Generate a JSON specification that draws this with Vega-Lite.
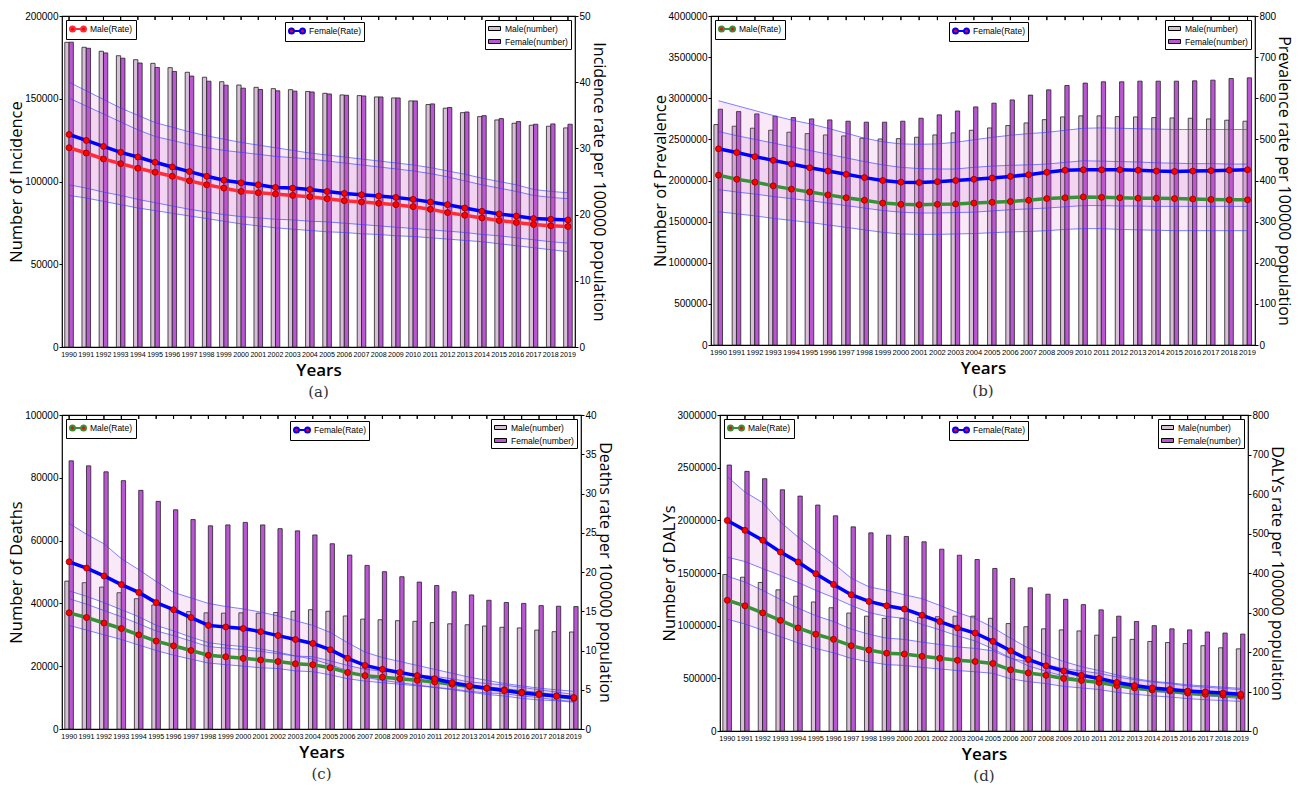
{
"$schema": "https://vega.github.io/schema/vega-lite/v6.json",
"padding": {"left": 8, "top": 10, "right": 8, "bottom": 2},
"background": "white",
"config": {
  "view": {"stroke": "#000", "strokeWidth": 1.2},
  "axis": {"grid": false, "domain": false, "labelFont": "Liberation Sans, sans-serif", "labelFontSize": 10, "labelColor": "#000", "tickColor": "#000", "tickSize": 3, "titleFont": "Open Sans", "titleFontSize": 16.5, "titleFontWeight": "normal", "titleColor": "#000", "labelPadding": 1, "titlePadding": 0},
  "axisRight": {"titleFontSize": 16},
  "axisX": {"labelFontSize": 7.2, "labelAngle": 0, "labelOverlap": false, "ticks": false, "titleFontSize": 17, "titleFontWeight": 600, "labelPadding": 3, "titlePadding": 5},
  "legend": {"labelFont": "Liberation Sans, sans-serif", "labelFontSize": 8.5, "labelColor": "#000", "padding": 3, "strokeColor": "#000", "fillColor": "#fff", "cornerRadius": 0, "labelLimit": 200, "title": null},
  "title": {"font": "DejaVu Serif", "fontSize": 15, "fontWeight": "normal", "color": "#333", "orient": "bottom", "offset": 7}
},
"datasets": {
"a": [
{"year":1990,"sex":"Male","n":184100,"r":30.1,"lo":22.9,"hi":37.6},{"year":1990,"sex":"Female","n":184200,"r":32.1,"lo":24.5,"hi":40.0},
{"year":1991,"sex":"Male","n":181100,"r":29.3,"lo":22.5,"hi":36.4},{"year":1991,"sex":"Female","n":180500,"r":31.2,"lo":24.0,"hi":38.7},
{"year":1992,"sex":"Male","n":178700,"r":28.4,"lo":22.0,"hi":35.2},{"year":1992,"sex":"Female","n":177700,"r":30.3,"lo":23.4,"hi":37.4},
{"year":1993,"sex":"Male","n":176000,"r":27.7,"lo":21.5,"hi":34.0},{"year":1993,"sex":"Female","n":174500,"r":29.4,"lo":22.9,"hi":36.1},
{"year":1994,"sex":"Male","n":173600,"r":27.0,"lo":21.0,"hi":32.8},{"year":1994,"sex":"Female","n":171600,"r":28.7,"lo":22.3,"hi":35.0},
{"year":1995,"sex":"Male","n":171400,"r":26.4,"lo":20.6,"hi":31.8},{"year":1995,"sex":"Female","n":168900,"r":27.9,"lo":21.8,"hi":33.9},
{"year":1996,"sex":"Male","n":168800,"r":25.8,"lo":20.2,"hi":31.2},{"year":1996,"sex":"Female","n":166500,"r":27.2,"lo":21.3,"hi":33.2},
{"year":1997,"sex":"Male","n":166000,"r":25.1,"lo":19.8,"hi":30.6},{"year":1997,"sex":"Female","n":163700,"r":26.5,"lo":20.8,"hi":32.5},
{"year":1998,"sex":"Male","n":163000,"r":24.5,"lo":19.4,"hi":30.1},{"year":1998,"sex":"Female","n":160600,"r":25.8,"lo":20.4,"hi":31.9},
{"year":1999,"sex":"Male","n":160300,"r":24.0,"lo":19.0,"hi":29.7},{"year":1999,"sex":"Female","n":158200,"r":25.2,"lo":20.0,"hi":31.4},
{"year":2000,"sex":"Male","n":158300,"r":23.5,"lo":18.6,"hi":29.4},{"year":2000,"sex":"Female","n":156400,"r":24.8,"lo":19.7,"hi":30.9},
{"year":2001,"sex":"Male","n":156900,"r":23.3,"lo":18.3,"hi":29.1},{"year":2001,"sex":"Female","n":155600,"r":24.5,"lo":19.5,"hi":30.5},
{"year":2002,"sex":"Male","n":156100,"r":23.1,"lo":18.0,"hi":28.8},{"year":2002,"sex":"Female","n":154800,"r":24.1,"lo":19.3,"hi":30.1},
{"year":2003,"sex":"Male","n":155500,"r":22.9,"lo":17.8,"hi":28.6},{"year":2003,"sex":"Female","n":154600,"r":24.0,"lo":19.2,"hi":29.7},
{"year":2004,"sex":"Male","n":154400,"r":22.7,"lo":17.6,"hi":28.4},{"year":2004,"sex":"Female","n":154100,"r":23.8,"lo":19.0,"hi":29.3},
{"year":2005,"sex":"Male","n":153300,"r":22.4,"lo":17.4,"hi":28.1},{"year":2005,"sex":"Female","n":152900,"r":23.5,"lo":18.9,"hi":29.0},
{"year":2006,"sex":"Male","n":152300,"r":22.1,"lo":17.3,"hi":27.8},{"year":2006,"sex":"Female","n":152100,"r":23.2,"lo":18.7,"hi":28.7},
{"year":2007,"sex":"Male","n":151900,"r":21.9,"lo":17.1,"hi":27.5},{"year":2007,"sex":"Female","n":151700,"r":23.0,"lo":18.5,"hi":28.4},
{"year":2008,"sex":"Male","n":151100,"r":21.7,"lo":17.0,"hi":27.2},{"year":2008,"sex":"Female","n":151100,"r":22.8,"lo":18.3,"hi":28.1},
{"year":2009,"sex":"Male","n":150500,"r":21.5,"lo":16.8,"hi":26.9},{"year":2009,"sex":"Female","n":150500,"r":22.6,"lo":18.1,"hi":27.8},
{"year":2010,"sex":"Male","n":148700,"r":21.2,"lo":16.7,"hi":26.6},{"year":2010,"sex":"Female","n":148700,"r":22.3,"lo":17.9,"hi":27.5},
{"year":2011,"sex":"Male","n":146500,"r":20.8,"lo":16.5,"hi":26.2},{"year":2011,"sex":"Female","n":146900,"r":21.9,"lo":17.7,"hi":27.1},
{"year":2012,"sex":"Male","n":144300,"r":20.3,"lo":16.3,"hi":25.7},{"year":2012,"sex":"Female","n":144700,"r":21.5,"lo":17.5,"hi":26.6},
{"year":2013,"sex":"Male","n":141600,"r":19.9,"lo":16.1,"hi":25.1},{"year":2013,"sex":"Female","n":142000,"r":21.0,"lo":17.3,"hi":26.1},
{"year":2014,"sex":"Male","n":139200,"r":19.5,"lo":15.9,"hi":24.5},{"year":2014,"sex":"Female","n":139800,"r":20.5,"lo":17.0,"hi":25.5},
{"year":2015,"sex":"Male","n":137200,"r":19.1,"lo":15.6,"hi":24.0},{"year":2015,"sex":"Female","n":138000,"r":20.1,"lo":16.8,"hi":25.0},
{"year":2016,"sex":"Male","n":135200,"r":18.8,"lo":15.3,"hi":23.5},{"year":2016,"sex":"Female","n":136200,"r":19.8,"lo":16.5,"hi":24.5},
{"year":2017,"sex":"Male","n":134000,"r":18.5,"lo":15.0,"hi":22.9},{"year":2017,"sex":"Female","n":134600,"r":19.4,"lo":16.2,"hi":23.8},
{"year":2018,"sex":"Male","n":133400,"r":18.3,"lo":14.7,"hi":22.6},{"year":2018,"sex":"Female","n":134800,"r":19.3,"lo":15.9,"hi":23.5},
{"year":2019,"sex":"Male","n":132400,"r":18.2,"lo":14.4,"hi":22.4},{"year":2019,"sex":"Female","n":134600,"r":19.2,"lo":15.7,"hi":23.3}
],
"b": [
{"year":1990,"sex":"Male","n":2680000,"r":413,"lo":324,"hi":519},{"year":1990,"sex":"Female","n":2867000,"r":477,"lo":378,"hi":594},
{"year":1991,"sex":"Male","n":2660000,"r":403,"lo":319,"hi":509},{"year":1991,"sex":"Female","n":2838000,"r":468,"lo":372,"hi":582},
{"year":1992,"sex":"Male","n":2636000,"r":396,"lo":314,"hi":500},{"year":1992,"sex":"Female","n":2810000,"r":458,"lo":367,"hi":570},
{"year":1993,"sex":"Male","n":2611000,"r":387,"lo":308,"hi":491},{"year":1993,"sex":"Female","n":2782000,"r":449,"lo":361,"hi":558},
{"year":1994,"sex":"Male","n":2587000,"r":379,"lo":303,"hi":482},{"year":1994,"sex":"Female","n":2765000,"r":440,"lo":356,"hi":547},
{"year":1995,"sex":"Male","n":2570000,"r":372,"lo":298,"hi":473},{"year":1995,"sex":"Female","n":2749000,"r":431,"lo":351,"hi":538},
{"year":1996,"sex":"Male","n":2554000,"r":365,"lo":292,"hi":464},{"year":1996,"sex":"Female","n":2737000,"r":423,"lo":345,"hi":527},
{"year":1997,"sex":"Male","n":2542000,"r":358,"lo":286,"hi":455},{"year":1997,"sex":"Female","n":2721000,"r":415,"lo":339,"hi":515},
{"year":1998,"sex":"Male","n":2514000,"r":352,"lo":280,"hi":446},{"year":1998,"sex":"Female","n":2709000,"r":407,"lo":333,"hi":503},
{"year":1999,"sex":"Male","n":2505000,"r":345,"lo":274,"hi":438},{"year":1999,"sex":"Female","n":2709000,"r":400,"lo":327,"hi":494},
{"year":2000,"sex":"Male","n":2509000,"r":342,"lo":270,"hi":432},{"year":2000,"sex":"Female","n":2721000,"r":396,"lo":323,"hi":489},
{"year":2001,"sex":"Male","n":2526000,"r":341,"lo":269,"hi":429},{"year":2001,"sex":"Female","n":2757000,"r":395,"lo":321,"hi":488},
{"year":2002,"sex":"Male","n":2554000,"r":342,"lo":269,"hi":428},{"year":2002,"sex":"Female","n":2798000,"r":397,"lo":321,"hi":489},
{"year":2003,"sex":"Male","n":2579000,"r":343,"lo":270,"hi":428},{"year":2003,"sex":"Female","n":2845000,"r":400,"lo":322,"hi":493},
{"year":2004,"sex":"Male","n":2611000,"r":345,"lo":271,"hi":432},{"year":2004,"sex":"Female","n":2895000,"r":403,"lo":323,"hi":499},
{"year":2005,"sex":"Male","n":2639000,"r":347,"lo":273,"hi":435},{"year":2005,"sex":"Female","n":2940000,"r":406,"lo":326,"hi":505},
{"year":2006,"sex":"Male","n":2668000,"r":349,"lo":275,"hi":437},{"year":2006,"sex":"Female","n":2980000,"r":410,"lo":329,"hi":510},
{"year":2007,"sex":"Male","n":2700000,"r":352,"lo":276,"hi":438},{"year":2007,"sex":"Female","n":3038000,"r":414,"lo":331,"hi":514},
{"year":2008,"sex":"Male","n":2740000,"r":356,"lo":278,"hi":440},{"year":2008,"sex":"Female","n":3102000,"r":420,"lo":333,"hi":517},
{"year":2009,"sex":"Male","n":2773000,"r":358,"lo":281,"hi":444},{"year":2009,"sex":"Female","n":3155000,"r":425,"lo":336,"hi":522},
{"year":2010,"sex":"Male","n":2786000,"r":360,"lo":283,"hi":448},{"year":2010,"sex":"Female","n":3184000,"r":426,"lo":339,"hi":527},
{"year":2011,"sex":"Male","n":2786000,"r":359,"lo":283,"hi":447},{"year":2011,"sex":"Female","n":3200000,"r":426,"lo":339,"hi":528},
{"year":2012,"sex":"Male","n":2777000,"r":358,"lo":281,"hi":446},{"year":2012,"sex":"Female","n":3200000,"r":426,"lo":338,"hi":527},
{"year":2013,"sex":"Male","n":2773000,"r":357,"lo":280,"hi":445},{"year":2013,"sex":"Female","n":3208000,"r":425,"lo":338,"hi":526},
{"year":2014,"sex":"Male","n":2765000,"r":357,"lo":279,"hi":443},{"year":2014,"sex":"Female","n":3208000,"r":423,"lo":337,"hi":525},
{"year":2015,"sex":"Male","n":2761000,"r":356,"lo":278,"hi":442},{"year":2015,"sex":"Female","n":3208000,"r":422,"lo":337,"hi":524},
{"year":2016,"sex":"Male","n":2757000,"r":355,"lo":278,"hi":441},{"year":2016,"sex":"Female","n":3212000,"r":423,"lo":337,"hi":524},
{"year":2017,"sex":"Male","n":2749000,"r":354,"lo":278,"hi":441},{"year":2017,"sex":"Female","n":3220000,"r":424,"lo":337,"hi":524},
{"year":2018,"sex":"Male","n":2733000,"r":353,"lo":278,"hi":440},{"year":2018,"sex":"Female","n":3240000,"r":425,"lo":337,"hi":524},
{"year":2019,"sex":"Male","n":2721000,"r":353,"lo":278,"hi":440},{"year":2019,"sex":"Female","n":3248000,"r":426,"lo":337,"hi":524}
],
"c": [
{"year":1990,"sex":"Male","n":47100,"r":14.8,"lo":13.2,"hi":16.6},{"year":1990,"sex":"Female","n":85400,"r":21.3,"lo":17.6,"hi":26.2},
{"year":1991,"sex":"Male","n":46600,"r":14.2,"lo":12.6,"hi":15.9},{"year":1991,"sex":"Female","n":83800,"r":20.5,"lo":16.9,"hi":24.8},
{"year":1992,"sex":"Male","n":45200,"r":13.5,"lo":12.0,"hi":15.1},{"year":1992,"sex":"Female","n":81900,"r":19.5,"lo":16.1,"hi":23.6},
{"year":1993,"sex":"Male","n":43400,"r":12.8,"lo":11.4,"hi":14.3},{"year":1993,"sex":"Female","n":79100,"r":18.4,"lo":15.2,"hi":21.7},
{"year":1994,"sex":"Male","n":41500,"r":12.0,"lo":10.7,"hi":13.4},{"year":1994,"sex":"Female","n":76000,"r":17.4,"lo":14.3,"hi":20.3},
{"year":1995,"sex":"Male","n":39500,"r":11.2,"lo":10.0,"hi":12.5},{"year":1995,"sex":"Female","n":72500,"r":16.1,"lo":13.2,"hi":18.8},
{"year":1996,"sex":"Male","n":38300,"r":10.6,"lo":9.4,"hi":11.9},{"year":1996,"sex":"Female","n":69800,"r":15.2,"lo":12.5,"hi":17.4},
{"year":1997,"sex":"Male","n":37400,"r":10.0,"lo":8.9,"hi":11.2},{"year":1997,"sex":"Female","n":66700,"r":14.2,"lo":11.7,"hi":16.7},
{"year":1998,"sex":"Male","n":37000,"r":9.4,"lo":8.4,"hi":10.5},{"year":1998,"sex":"Female","n":64700,"r":13.2,"lo":11.0,"hi":16.0},
{"year":1999,"sex":"Male","n":36900,"r":9.2,"lo":8.2,"hi":10.3},{"year":1999,"sex":"Female","n":65000,"r":13.0,"lo":10.7,"hi":15.6},
{"year":2000,"sex":"Male","n":37000,"r":9.0,"lo":8.0,"hi":10.1},{"year":2000,"sex":"Female","n":65800,"r":12.8,"lo":10.5,"hi":15.3},
{"year":2001,"sex":"Male","n":36900,"r":8.8,"lo":7.8,"hi":9.9},{"year":2001,"sex":"Female","n":65000,"r":12.4,"lo":10.2,"hi":14.9},
{"year":2002,"sex":"Male","n":37100,"r":8.6,"lo":7.7,"hi":9.6},{"year":2002,"sex":"Female","n":63800,"r":11.9,"lo":9.8,"hi":14.4},
{"year":2003,"sex":"Male","n":37500,"r":8.3,"lo":7.4,"hi":9.3},{"year":2003,"sex":"Female","n":63100,"r":11.4,"lo":9.3,"hi":13.8},
{"year":2004,"sex":"Male","n":38000,"r":8.2,"lo":7.3,"hi":9.2},{"year":2004,"sex":"Female","n":61800,"r":10.9,"lo":8.9,"hi":13.2},
{"year":2005,"sex":"Male","n":37500,"r":7.8,"lo":6.9,"hi":8.7},{"year":2005,"sex":"Female","n":59000,"r":10.1,"lo":8.2,"hi":12.3},
{"year":2006,"sex":"Male","n":36000,"r":7.2,"lo":6.4,"hi":8.1},{"year":2006,"sex":"Female","n":55400,"r":9.0,"lo":7.4,"hi":11.0},
{"year":2007,"sex":"Male","n":35000,"r":6.8,"lo":6.1,"hi":7.6},{"year":2007,"sex":"Female","n":52100,"r":8.1,"lo":6.6,"hi":9.8},
{"year":2008,"sex":"Male","n":34800,"r":6.6,"lo":5.9,"hi":7.4},{"year":2008,"sex":"Female","n":50100,"r":7.6,"lo":6.2,"hi":9.1},
{"year":2009,"sex":"Male","n":34500,"r":6.4,"lo":5.7,"hi":7.2},{"year":2009,"sex":"Female","n":48500,"r":7.2,"lo":5.9,"hi":8.6},
{"year":2010,"sex":"Male","n":34300,"r":6.2,"lo":5.5,"hi":6.9},{"year":2010,"sex":"Female","n":46800,"r":6.8,"lo":5.6,"hi":8.1},
{"year":2011,"sex":"Male","n":33900,"r":6.0,"lo":5.3,"hi":6.7},{"year":2011,"sex":"Female","n":45700,"r":6.4,"lo":5.3,"hi":7.6},
{"year":2012,"sex":"Male","n":33500,"r":5.7,"lo":5.1,"hi":6.4},{"year":2012,"sex":"Female","n":43700,"r":5.9,"lo":5.0,"hi":7.1},
{"year":2013,"sex":"Male","n":33200,"r":5.4,"lo":4.8,"hi":6.0},{"year":2013,"sex":"Female","n":42700,"r":5.5,"lo":4.7,"hi":6.6},
{"year":2014,"sex":"Male","n":32800,"r":5.2,"lo":4.6,"hi":5.8},{"year":2014,"sex":"Female","n":41000,"r":5.2,"lo":4.4,"hi":6.2},
{"year":2015,"sex":"Male","n":32400,"r":5.0,"lo":4.5,"hi":5.6},{"year":2015,"sex":"Female","n":40300,"r":4.9,"lo":4.2,"hi":5.8},
{"year":2016,"sex":"Male","n":32200,"r":4.7,"lo":4.2,"hi":5.3},{"year":2016,"sex":"Female","n":40000,"r":4.6,"lo":3.9,"hi":5.5},
{"year":2017,"sex":"Male","n":31500,"r":4.5,"lo":4.0,"hi":5.0},{"year":2017,"sex":"Female","n":39300,"r":4.4,"lo":3.7,"hi":5.2},
{"year":2018,"sex":"Male","n":31000,"r":4.2,"lo":3.7,"hi":4.7},{"year":2018,"sex":"Female","n":39100,"r":4.2,"lo":3.6,"hi":5.0},
{"year":2019,"sex":"Male","n":30900,"r":3.9,"lo":3.5,"hi":4.4},{"year":2019,"sex":"Female","n":39000,"r":4.0,"lo":3.4,"hi":4.8}
],
"d": [
{"year":1990,"sex":"Male","n":1486000,"r":331,"lo":283,"hi":392},{"year":1990,"sex":"Female","n":2525000,"r":533,"lo":440,"hi":644},
{"year":1991,"sex":"Male","n":1460000,"r":317,"lo":271,"hi":377},{"year":1991,"sex":"Female","n":2465000,"r":508,"lo":429,"hi":605},
{"year":1992,"sex":"Male","n":1410000,"r":299,"lo":255,"hi":356},{"year":1992,"sex":"Female","n":2395000,"r":483,"lo":411,"hi":578},
{"year":1993,"sex":"Male","n":1340000,"r":280,"lo":239,"hi":333},{"year":1993,"sex":"Female","n":2290000,"r":453,"lo":394,"hi":529},
{"year":1994,"sex":"Male","n":1280000,"r":261,"lo":223,"hi":311},{"year":1994,"sex":"Female","n":2230000,"r":428,"lo":376,"hi":491},
{"year":1995,"sex":"Male","n":1225000,"r":245,"lo":209,"hi":292},{"year":1995,"sex":"Female","n":2145000,"r":398,"lo":356,"hi":457},
{"year":1996,"sex":"Male","n":1170000,"r":232,"lo":198,"hi":277},{"year":1996,"sex":"Female","n":2043000,"r":371,"lo":338,"hi":424},
{"year":1997,"sex":"Male","n":1120000,"r":216,"lo":184,"hi":258},{"year":1997,"sex":"Female","n":1938000,"r":345,"lo":318,"hi":387},
{"year":1998,"sex":"Male","n":1090000,"r":205,"lo":175,"hi":245},{"year":1998,"sex":"Female","n":1881000,"r":328,"lo":300,"hi":365},
{"year":1999,"sex":"Male","n":1070000,"r":197,"lo":168,"hi":235},{"year":1999,"sex":"Female","n":1859000,"r":317,"lo":290,"hi":356},
{"year":2000,"sex":"Male","n":1070000,"r":195,"lo":166,"hi":232},{"year":2000,"sex":"Female","n":1847000,"r":309,"lo":285,"hi":345},
{"year":2001,"sex":"Male","n":1080000,"r":189,"lo":161,"hi":225},{"year":2001,"sex":"Female","n":1796000,"r":293,"lo":270,"hi":335},
{"year":2002,"sex":"Male","n":1085000,"r":184,"lo":157,"hi":219},{"year":2002,"sex":"Female","n":1726000,"r":277,"lo":256,"hi":318},
{"year":2003,"sex":"Male","n":1090000,"r":179,"lo":153,"hi":213},{"year":2003,"sex":"Female","n":1669000,"r":261,"lo":241,"hi":300},
{"year":2004,"sex":"Male","n":1090000,"r":176,"lo":150,"hi":209},{"year":2004,"sex":"Female","n":1628000,"r":248,"lo":228,"hi":285},
{"year":2005,"sex":"Male","n":1070000,"r":171,"lo":146,"hi":203},{"year":2005,"sex":"Female","n":1543000,"r":227,"lo":208,"hi":262},
{"year":2006,"sex":"Male","n":1020000,"r":155,"lo":132,"hi":184},{"year":2006,"sex":"Female","n":1448000,"r":203,"lo":185,"hi":235},
{"year":2007,"sex":"Male","n":990000,"r":147,"lo":125,"hi":175},{"year":2007,"sex":"Female","n":1359000,"r":181,"lo":165,"hi":210},
{"year":2008,"sex":"Male","n":970000,"r":141,"lo":120,"hi":168},{"year":2008,"sex":"Female","n":1299000,"r":165,"lo":151,"hi":192},
{"year":2009,"sex":"Male","n":960000,"r":133,"lo":113,"hi":158},{"year":2009,"sex":"Female","n":1250000,"r":152,"lo":139,"hi":176},
{"year":2010,"sex":"Male","n":950000,"r":128,"lo":109,"hi":152},{"year":2010,"sex":"Female","n":1200000,"r":141,"lo":130,"hi":163},
{"year":2011,"sex":"Male","n":910000,"r":123,"lo":105,"hi":146},{"year":2011,"sex":"Female","n":1150000,"r":133,"lo":122,"hi":153},
{"year":2012,"sex":"Male","n":890000,"r":115,"lo":98,"hi":137},{"year":2012,"sex":"Female","n":1090000,"r":123,"lo":113,"hi":142},
{"year":2013,"sex":"Male","n":870000,"r":109,"lo":93,"hi":130},{"year":2013,"sex":"Female","n":1040000,"r":115,"lo":106,"hi":133},
{"year":2014,"sex":"Male","n":850000,"r":104,"lo":89,"hi":124},{"year":2014,"sex":"Female","n":1000000,"r":109,"lo":100,"hi":126},
{"year":2015,"sex":"Male","n":840000,"r":101,"lo":86,"hi":120},{"year":2015,"sex":"Female","n":970000,"r":105,"lo":97,"hi":122},
{"year":2016,"sex":"Male","n":830000,"r":96,"lo":82,"hi":114},{"year":2016,"sex":"Female","n":960000,"r":101,"lo":92,"hi":117},
{"year":2017,"sex":"Male","n":810000,"r":93,"lo":79,"hi":111},{"year":2017,"sex":"Female","n":940000,"r":99,"lo":89,"hi":114},
{"year":2018,"sex":"Male","n":790000,"r":91,"lo":77,"hi":108},{"year":2018,"sex":"Female","n":930000,"r":96,"lo":86,"hi":111},
{"year":2019,"sex":"Male","n":780000,"r":88,"lo":75,"hi":105},{"year":2019,"sex":"Female","n":920000,"r":93,"lo":82,"hi":108}
]
},
"resolve": {"scale": {"fill": "independent", "stroke": "independent", "color": "independent"}, "legend": {"fill": "independent", "stroke": "independent", "color": "independent"}},
"spacing": 8,
"vconcat": [
{"hconcat": [
{
 "width": 513, "height": 331,
 "data": {"name": "a"},
 "title": {"text": "(a)"},
 "encoding": {"x": {"field": "year", "type": "ordinal", "scale": {"type": "band", "paddingInner": 0.5, "paddingOuter": 0.16}, "axis": {"title": "Years", "labelFontSize": 7.1}}},
 "layer": [
  {"mark": {"type": "bar", "stroke": "#222", "strokeWidth": 0.8},
   "encoding": {
    "xOffset": {"field": "sex", "type": "nominal", "sort": ["Male", "Female"]},
    "y": {"field": "n", "type": "quantitative", "scale": {"domain": [0, 200000], "nice": false}, "axis": {"orient": "left", "title": "Number of Incidence", "values": [0, 50000, 100000, 150000, 200000], "format": "d"}},
    "fill": {"field": "sex", "type": "nominal", "sort": ["Male", "Female"], "scale": {"domain": ["Male", "Female"], "range": ["#d8bfd8", "#ba55d3"]},
      "legend": {"orient": "top-right", "offset": 4, "symbolType": "M-1,-0.4H1.4V0.4H-1Z", "symbolSize": 100, "symbolStrokeColor": "#000", "symbolStrokeWidth": 1, "labelOffset": 6, "rowPadding": 3, "labelExpr": "datum.label + '(number)'"}}
   }},
  {"mark": {"type": "area", "color": "#cc5ccc", "fillOpacity": 0.14},
   "encoding": {"y": {"field": "lo", "type": "quantitative", "scale": {"domain": [0, 50], "nice": false}, "axis": null}, "y2": {"field": "hi"}, "detail": {"field": "sex"}}},
  {"mark": {"type": "line", "color": "#3c3cff", "strokeWidth": 0.8, "opacity": 0.8},
   "encoding": {"y": {"field": "lo", "type": "quantitative", "scale": {"domain": [0, 50], "nice": false}, "axis": null}, "detail": {"field": "sex"}}},
  {"mark": {"type": "line", "color": "#3c3cff", "strokeWidth": 0.8, "opacity": 0.8},
   "encoding": {"y": {"field": "hi", "type": "quantitative", "scale": {"domain": [0, 50], "nice": false}, "axis": null}, "detail": {"field": "sex"}}},
  {"transform": [{"filter": "datum.sex === 'Male'"}],
   "mark": {"type": "line", "strokeWidth": 3.5},
   "encoding": {"y": {"field": "r", "type": "quantitative", "scale": {"domain": [0, 50], "nice": false}, "axis": {"orient": "right", "title": "Incidence rate per 100000 population", "values": [0, 10, 20, 30, 40, 50], "format": "d"}},
    "stroke": {"datum": "Male(Rate)", "type": "nominal", "scale": {"range": ["#ff2d3c"]},
      "legend": {"orient": "top-left", "offset": 4, "symbolType": "M-1,0A0.5,0.5,0,1,0,0,0A0.5,0.5,0,1,0,-1,0ZM1.2,0A0.5,0.5,0,1,0,2.2,0A0.5,0.5,0,1,0,1.2,0ZM0,0L1.2,0", "symbolSize": 100, "labelOffset": 9,
        "encode": {"symbols": {"update": {"fill": {"value": "#ff0000"}, "stroke": {"value": "#ff2d3c"}, "strokeWidth": {"value": 2}, "opacity": {"value": 1}}}}}}}},
  {"transform": [{"filter": "datum.sex === 'Female'"}],
   "mark": {"type": "line", "strokeWidth": 3.5},
   "encoding": {"y": {"field": "r", "type": "quantitative", "scale": {"domain": [0, 50], "nice": false}, "axis": null},
    "color": {"datum": "Female(Rate)", "type": "nominal", "scale": {"range": ["#0000ff"]},
      "legend": {"orient": "none", "legendX": 223, "legendY": 6, "symbolType": "M-1,0A0.5,0.5,0,1,0,0,0A0.5,0.5,0,1,0,-1,0ZM1.2,0A0.5,0.5,0,1,0,2.2,0A0.5,0.5,0,1,0,1.2,0ZM0,0L1.2,0", "symbolSize": 100, "labelOffset": 9,
        "encode": {"symbols": {"update": {"fill": {"value": "#ff0000"}, "stroke": {"value": "#0000ff"}, "strokeWidth": {"value": 2}, "opacity": {"value": 1}}}}}}}},
  {"mark": {"type": "point", "filled": true, "fill": "#ff0000", "stroke": "#8b0000", "strokeWidth": 0.8, "size": 36, "opacity": 1},
   "encoding": {"y": {"field": "r", "type": "quantitative", "scale": {"domain": [0, 50], "nice": false}, "axis": null}}},
  {"mark": {"type": "rule", "color": "#000", "strokeWidth": 1},
   "encoding": {"y": {"datum": 50, "type": "quantitative", "scale": {"domain": [0, 50], "nice": false}, "axis": null}, "y2": {"datum": 49.4}}}
 ],
 "resolve": {"scale": {"y": "independent"}}
},
{
 "width": 544, "height": 329,
 "data": {"name": "b"},
 "title": {"text": "(b)"},
 "encoding": {"x": {"field": "year", "type": "ordinal", "scale": {"type": "band", "paddingInner": 0.5, "paddingOuter": 0.16}, "axis": {"title": "Years", "labelFontSize": 7.6}}},
 "layer": [
  {"mark": {"type": "bar", "stroke": "#222", "strokeWidth": 0.8},
   "encoding": {
    "xOffset": {"field": "sex", "type": "nominal", "sort": ["Male", "Female"]},
    "y": {"field": "n", "type": "quantitative", "scale": {"domain": [0, 4000000], "nice": false}, "axis": {"orient": "left", "title": "Number of Prevalence", "values": [0, 500000, 1000000, 1500000, 2000000, 2500000, 3000000, 3500000, 4000000], "format": "d"}},
    "fill": {"field": "sex", "type": "nominal", "sort": ["Male", "Female"], "scale": {"domain": ["Male", "Female"], "range": ["#d8bfd8", "#ba55d3"]},
      "legend": {"orient": "top-right", "offset": 4, "symbolType": "M-1,-0.4H1.4V0.4H-1Z", "symbolSize": 100, "symbolStrokeColor": "#000", "symbolStrokeWidth": 1, "labelOffset": 6, "rowPadding": 3, "labelExpr": "datum.label + '(number)'"}}
   }},
  {"mark": {"type": "area", "color": "#cc5ccc", "fillOpacity": 0.14},
   "encoding": {"y": {"field": "lo", "type": "quantitative", "scale": {"domain": [0, 800], "nice": false}, "axis": null}, "y2": {"field": "hi"}, "detail": {"field": "sex"}}},
  {"mark": {"type": "line", "color": "#3c3cff", "strokeWidth": 0.8, "opacity": 0.8},
   "encoding": {"y": {"field": "lo", "type": "quantitative", "scale": {"domain": [0, 800], "nice": false}, "axis": null}, "detail": {"field": "sex"}}},
  {"mark": {"type": "line", "color": "#3c3cff", "strokeWidth": 0.8, "opacity": 0.8},
   "encoding": {"y": {"field": "hi", "type": "quantitative", "scale": {"domain": [0, 800], "nice": false}, "axis": null}, "detail": {"field": "sex"}}},
  {"transform": [{"filter": "datum.sex === 'Male'"}],
   "mark": {"type": "line", "strokeWidth": 3.5},
   "encoding": {"y": {"field": "r", "type": "quantitative", "scale": {"domain": [0, 800], "nice": false}, "axis": {"orient": "right", "title": "Prevalence rate per 100000 population", "values": [0, 100, 200, 300, 400, 500, 600, 700, 800], "format": "d"}},
    "stroke": {"datum": "Male(Rate)", "type": "nominal", "scale": {"range": ["#3a8f3a"]},
      "legend": {"orient": "top-left", "offset": 4, "symbolType": "M-1,0A0.5,0.5,0,1,0,0,0A0.5,0.5,0,1,0,-1,0ZM1.2,0A0.5,0.5,0,1,0,2.2,0A0.5,0.5,0,1,0,1.2,0ZM0,0L1.2,0", "symbolSize": 100, "labelOffset": 9,
        "encode": {"symbols": {"update": {"fill": {"value": "#ff0000"}, "stroke": {"value": "#3a8f3a"}, "strokeWidth": {"value": 2}, "opacity": {"value": 1}}}}}}}},
  {"transform": [{"filter": "datum.sex === 'Female'"}],
   "mark": {"type": "line", "strokeWidth": 3.5},
   "encoding": {"y": {"field": "r", "type": "quantitative", "scale": {"domain": [0, 800], "nice": false}, "axis": null},
    "color": {"datum": "Female(Rate)", "type": "nominal", "scale": {"range": ["#0000ff"]},
      "legend": {"orient": "none", "legendX": 238, "legendY": 6, "symbolType": "M-1,0A0.5,0.5,0,1,0,0,0A0.5,0.5,0,1,0,-1,0ZM1.2,0A0.5,0.5,0,1,0,2.2,0A0.5,0.5,0,1,0,1.2,0ZM0,0L1.2,0", "symbolSize": 100, "labelOffset": 9,
        "encode": {"symbols": {"update": {"fill": {"value": "#ff0000"}, "stroke": {"value": "#0000ff"}, "strokeWidth": {"value": 2}, "opacity": {"value": 1}}}}}}}},
  {"mark": {"type": "point", "filled": true, "fill": "#ff0000", "stroke": "#8b0000", "strokeWidth": 0.8, "size": 36, "opacity": 1},
   "encoding": {"y": {"field": "r", "type": "quantitative", "scale": {"domain": [0, 800], "nice": false}, "axis": null}}},
  {"mark": {"type": "rule", "color": "#000", "strokeWidth": 1},
   "encoding": {"y": {"datum": 800, "type": "quantitative", "scale": {"domain": [0, 800], "nice": false}, "axis": null}, "y2": {"datum": 790}}}
 ],
 "resolve": {"scale": {"y": "independent"}}
}
], "spacing": 44, "resolve": {"scale": {"fill": "independent", "stroke": "independent", "color": "independent"}, "legend": {"fill": "independent", "stroke": "independent", "color": "independent"}}},
{"hconcat": [
{
 "width": 519, "height": 314,
 "data": {"name": "c"},
 "title": {"text": "(c)"},
 "encoding": {"x": {"field": "year", "type": "ordinal", "scale": {"type": "band", "paddingInner": 0.5, "paddingOuter": 0.16}, "axis": {"title": "Years", "labelFontSize": 7.2}}},
 "layer": [
  {"mark": {"type": "bar", "stroke": "#222", "strokeWidth": 0.8},
   "encoding": {
    "xOffset": {"field": "sex", "type": "nominal", "sort": ["Male", "Female"]},
    "y": {"field": "n", "type": "quantitative", "scale": {"domain": [0, 100000], "nice": false}, "axis": {"orient": "left", "title": "Number of Deaths", "values": [0, 20000, 40000, 60000, 80000, 100000], "format": "d"}},
    "fill": {"field": "sex", "type": "nominal", "sort": ["Male", "Female"], "scale": {"domain": ["Male", "Female"], "range": ["#d8bfd8", "#ba55d3"]},
      "legend": {"orient": "top-right", "offset": 4, "symbolType": "M-1,-0.4H1.4V0.4H-1Z", "symbolSize": 100, "symbolStrokeColor": "#000", "symbolStrokeWidth": 1, "labelOffset": 6, "rowPadding": 3, "labelExpr": "datum.label + '(number)'"}}
   }},
  {"mark": {"type": "area", "color": "#cc5ccc", "fillOpacity": 0.14},
   "encoding": {"y": {"field": "lo", "type": "quantitative", "scale": {"domain": [0, 40], "nice": false}, "axis": null}, "y2": {"field": "hi"}, "detail": {"field": "sex"}}},
  {"mark": {"type": "line", "color": "#3c3cff", "strokeWidth": 0.8, "opacity": 0.8},
   "encoding": {"y": {"field": "lo", "type": "quantitative", "scale": {"domain": [0, 40], "nice": false}, "axis": null}, "detail": {"field": "sex"}}},
  {"mark": {"type": "line", "color": "#3c3cff", "strokeWidth": 0.8, "opacity": 0.8},
   "encoding": {"y": {"field": "hi", "type": "quantitative", "scale": {"domain": [0, 40], "nice": false}, "axis": null}, "detail": {"field": "sex"}}},
  {"transform": [{"filter": "datum.sex === 'Male'"}],
   "mark": {"type": "line", "strokeWidth": 3.5},
   "encoding": {"y": {"field": "r", "type": "quantitative", "scale": {"domain": [0, 40], "nice": false}, "axis": {"orient": "right", "title": "Deaths rate per 100000 population", "values": [0, 5, 10, 15, 20, 25, 30, 35, 40], "format": "d"}},
    "stroke": {"datum": "Male(Rate)", "type": "nominal", "scale": {"range": ["#3a8f3a"]},
      "legend": {"orient": "top-left", "offset": 4, "symbolType": "M-1,0A0.5,0.5,0,1,0,0,0A0.5,0.5,0,1,0,-1,0ZM1.2,0A0.5,0.5,0,1,0,2.2,0A0.5,0.5,0,1,0,1.2,0ZM0,0L1.2,0", "symbolSize": 100, "labelOffset": 9,
        "encode": {"symbols": {"update": {"fill": {"value": "#ff0000"}, "stroke": {"value": "#3a8f3a"}, "strokeWidth": {"value": 2}, "opacity": {"value": 1}}}}}}}},
  {"transform": [{"filter": "datum.sex === 'Female'"}],
   "mark": {"type": "line", "strokeWidth": 3.5},
   "encoding": {"y": {"field": "r", "type": "quantitative", "scale": {"domain": [0, 40], "nice": false}, "axis": null},
    "color": {"datum": "Female(Rate)", "type": "nominal", "scale": {"range": ["#0000ff"]},
      "legend": {"orient": "none", "legendX": 228, "legendY": 6, "symbolType": "M-1,0A0.5,0.5,0,1,0,0,0A0.5,0.5,0,1,0,-1,0ZM1.2,0A0.5,0.5,0,1,0,2.2,0A0.5,0.5,0,1,0,1.2,0ZM0,0L1.2,0", "symbolSize": 100, "labelOffset": 9,
        "encode": {"symbols": {"update": {"fill": {"value": "#ff0000"}, "stroke": {"value": "#0000ff"}, "strokeWidth": {"value": 2}, "opacity": {"value": 1}}}}}}}},
  {"mark": {"type": "point", "filled": true, "fill": "#ff0000", "stroke": "#8b0000", "strokeWidth": 0.8, "size": 36, "opacity": 1},
   "encoding": {"y": {"field": "r", "type": "quantitative", "scale": {"domain": [0, 40], "nice": false}, "axis": null}}},
  {"mark": {"type": "rule", "color": "#000", "strokeWidth": 1},
   "encoding": {"y": {"datum": 40, "type": "quantitative", "scale": {"domain": [0, 40], "nice": false}, "axis": null}, "y2": {"datum": 39.5}}}
 ],
 "resolve": {"scale": {"y": "independent"}}
},
{
 "width": 528, "height": 316,
 "data": {"name": "d"},
 "title": {"text": "(d)"},
 "encoding": {"x": {"field": "year", "type": "ordinal", "scale": {"type": "band", "paddingInner": 0.5, "paddingOuter": 0.16}, "axis": {"title": "Years", "labelFontSize": 7.3}}},
 "layer": [
  {"mark": {"type": "bar", "stroke": "#222", "strokeWidth": 0.8},
   "encoding": {
    "xOffset": {"field": "sex", "type": "nominal", "sort": ["Male", "Female"]},
    "y": {"field": "n", "type": "quantitative", "scale": {"domain": [0, 3000000], "nice": false}, "axis": {"orient": "left", "title": "Number of DALYs", "values": [0, 500000, 1000000, 1500000, 2000000, 2500000, 3000000], "format": "d"}},
    "fill": {"field": "sex", "type": "nominal", "sort": ["Male", "Female"], "scale": {"domain": ["Male", "Female"], "range": ["#d8bfd8", "#ba55d3"]},
      "legend": {"orient": "top-right", "offset": 4, "symbolType": "M-1,-0.4H1.4V0.4H-1Z", "symbolSize": 100, "symbolStrokeColor": "#000", "symbolStrokeWidth": 1, "labelOffset": 6, "rowPadding": 3, "labelExpr": "datum.label + '(number)'"}}
   }},
  {"mark": {"type": "area", "color": "#cc5ccc", "fillOpacity": 0.14},
   "encoding": {"y": {"field": "lo", "type": "quantitative", "scale": {"domain": [0, 800], "nice": false}, "axis": null}, "y2": {"field": "hi"}, "detail": {"field": "sex"}}},
  {"mark": {"type": "line", "color": "#3c3cff", "strokeWidth": 0.8, "opacity": 0.8},
   "encoding": {"y": {"field": "lo", "type": "quantitative", "scale": {"domain": [0, 800], "nice": false}, "axis": null}, "detail": {"field": "sex"}}},
  {"mark": {"type": "line", "color": "#3c3cff", "strokeWidth": 0.8, "opacity": 0.8},
   "encoding": {"y": {"field": "hi", "type": "quantitative", "scale": {"domain": [0, 800], "nice": false}, "axis": null}, "detail": {"field": "sex"}}},
  {"transform": [{"filter": "datum.sex === 'Male'"}],
   "mark": {"type": "line", "strokeWidth": 3.5},
   "encoding": {"y": {"field": "r", "type": "quantitative", "scale": {"domain": [0, 800], "nice": false}, "axis": {"orient": "right", "title": "DALYs rate per 100000 population", "values": [0, 100, 200, 300, 400, 500, 600, 700, 800], "format": "d"}},
    "stroke": {"datum": "Male(Rate)", "type": "nominal", "scale": {"range": ["#3a8f3a"]},
      "legend": {"orient": "top-left", "offset": 4, "symbolType": "M-1,0A0.5,0.5,0,1,0,0,0A0.5,0.5,0,1,0,-1,0ZM1.2,0A0.5,0.5,0,1,0,2.2,0A0.5,0.5,0,1,0,1.2,0ZM0,0L1.2,0", "symbolSize": 100, "labelOffset": 9,
        "encode": {"symbols": {"update": {"fill": {"value": "#ff0000"}, "stroke": {"value": "#3a8f3a"}, "strokeWidth": {"value": 2}, "opacity": {"value": 1}}}}}}}},
  {"transform": [{"filter": "datum.sex === 'Female'"}],
   "mark": {"type": "line", "strokeWidth": 3.5},
   "encoding": {"y": {"field": "r", "type": "quantitative", "scale": {"domain": [0, 800], "nice": false}, "axis": null},
    "color": {"datum": "Female(Rate)", "type": "nominal", "scale": {"range": ["#0000ff"]},
      "legend": {"orient": "none", "legendX": 229, "legendY": 6, "symbolType": "M-1,0A0.5,0.5,0,1,0,0,0A0.5,0.5,0,1,0,-1,0ZM1.2,0A0.5,0.5,0,1,0,2.2,0A0.5,0.5,0,1,0,1.2,0ZM0,0L1.2,0", "symbolSize": 100, "labelOffset": 9,
        "encode": {"symbols": {"update": {"fill": {"value": "#ff0000"}, "stroke": {"value": "#0000ff"}, "strokeWidth": {"value": 2}, "opacity": {"value": 1}}}}}}}},
  {"mark": {"type": "point", "filled": true, "fill": "#ff0000", "stroke": "#8b0000", "strokeWidth": 0.8, "size": 36, "opacity": 1},
   "encoding": {"y": {"field": "r", "type": "quantitative", "scale": {"domain": [0, 800], "nice": false}, "axis": null}}},
  {"mark": {"type": "rule", "color": "#000", "strokeWidth": 1},
   "encoding": {"y": {"datum": 800, "type": "quantitative", "scale": {"domain": [0, 800], "nice": false}, "axis": null}, "y2": {"datum": 790}}}
 ],
 "resolve": {"scale": {"y": "independent"}}
}
], "spacing": 47, "resolve": {"scale": {"fill": "independent", "stroke": "independent", "color": "independent"}, "legend": {"fill": "independent", "stroke": "independent", "color": "independent"}}}
]
}
